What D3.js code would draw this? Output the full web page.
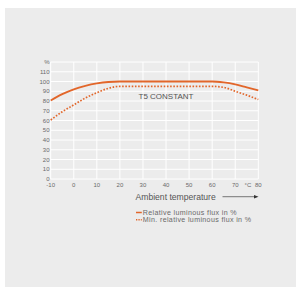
<!DOCTYPE html>
<meta charset="utf-8">
<style>
  body { margin: 0; background: #fff; }
  text { font-family: "Liberation Sans", Arial, sans-serif; fill: #6a6a6a; }
  .grid line { stroke: #fff; stroke-width: 1px; }
  .line { fill: none; stroke: #e2662a; }
</style>
<body>
<script src="https://d3js.org/d3.v7.min.js"></script>
<script>

// temperatures (°C) and the two flux curves (%)
var temps   = [-10, -5, 0, 5, 10, 15, 20, 25, 30, 35, 40, 45, 50, 55, 60, 65, 70, 75, 80];
var fluxRel = [80.5, 87, 92, 95.5, 98, 99.5, 100, 100, 100, 100, 100, 100, 100, 100, 100, 99, 97, 94, 91];
var fluxMin = [60.5, 69, 76, 83, 88.5, 93, 95, 95, 95, 95, 95, 95, 95, 95, 95, 94, 90, 86, 81.5];

var xTicks = [-10, 0, 10, 20, 30, 40, 50, 60, 70, 80];
var yTicks = [0, 10, 20, 30, 40, 50, 60, 70, 80, 90, 100, 110];
var legendLabels = ["Relative luminous flux in %", "Min. relative luminous flux in %"];

var W = 296, H = 298;
var svg = d3.select("body").append("svg")
    .attr("width", W)
    .attr("height", H);

// grey panel
svg.append("rect")
    .attr("x", 5).attr("y", 8)
    .attr("width", 291).attr("height", 279)
    .attr("fill", "#ececec");

var x = d3.scaleLinear().domain([-10, 80]).range([50.7, 258.3]);
var y = d3.scaleLinear().domain([0, 120]).range([179, 62]);

// grid
var grid = svg.append("g").attr("class", "grid");
grid.selectAll(".h")
    .data(d3.range(0, 121, 10))
  .enter().append("line")
    .attr("x1", x(-10)).attr("x2", x(80))
    .attr("y1", function(d) { return y(d); })
    .attr("y2", function(d) { return y(d); });
grid.selectAll(".v")
    .data(xTicks)
  .enter().append("line")
    .attr("x1", function(d) { return x(d); })
    .attr("x2", function(d) { return x(d); })
    .attr("y1", y(0)).attr("y2", y(120));

// y labels
svg.selectAll(".ylab")
    .data(yTicks)
  .enter().append("text")
    .attr("x", 49.5)
    .attr("y", function(d) { return y(d); })
    .attr("dy", "0.35em")
    .attr("text-anchor", "end")
    .style("font-size", "6px")
    .text(function(d) { return d; });
svg.append("text")
    .attr("x", 49.5).attr("y", y(120)).attr("dy", "0.35em")
    .attr("text-anchor", "end")
    .style("font-size", "6px")
    .text("%");

// x labels
svg.selectAll(".xlab")
    .data(xTicks)
  .enter().append("text")
    .attr("x", function(d) { return x(d); })
    .attr("y", 184.5)
    .attr("dy", "0.35em")
    .attr("text-anchor", "middle")
    .style("font-size", "6px")
    .text(function(d) { return d; });
svg.append("text")
    .attr("x", x(75.5)).attr("y", 184.5).attr("dy", "0.35em")
    .attr("text-anchor", "middle")
    .style("font-size", "6px")
    .text("°C");

// axis title with arrow
svg.append("text")
    .attr("x", 135.5).attr("y", 196.7).attr("dy", "0.35em")
    .style("font-size", "8.6px")
    .style("fill", "#555")
    .text("Ambient temperature");
svg.append("line")
    .attr("x1", 222.5).attr("x2", 255)
    .attr("y1", 196.7).attr("y2", 196.7)
    .attr("stroke", "#444").attr("stroke-width", 0.7);
svg.append("path")
    .attr("d", "M254,194.9 L258.5,196.7 L254,198.5 Z")
    .attr("fill", "#333");

// curves
var line = d3.line()
    .x(function(d) { return x(d[0]); })
    .y(function(d) { return y(d[1]); })
    .curve(d3.curveMonotoneX);

svg.append("path")
    .datum(d3.zip(temps, fluxMin))
    .attr("class", "line")
    .attr("d", line)
    .attr("stroke-width", 1.7)
    .attr("stroke-dasharray", "1.6,1.6");

svg.append("path")
    .datum(d3.zip(temps, fluxRel))
    .attr("class", "line")
    .attr("d", line)
    .attr("stroke-width", 1.8);

svg.append("text")
    .attr("x", 138.5).attr("y", 96).attr("dy", "0.35em")
    .style("font-size", "8px")
    .style("fill", "#555")
    .text("T5 CONSTANT");

// legend
var leg = svg.selectAll(".leg")
    .data(legendLabels)
  .enter().append("g")
    .attr("transform", function(d, i) { return "translate(136," + (212.5 + i * 7.3) + ")"; });
leg.append("line")
    .attr("class", "line")
    .attr("x1", 0).attr("x2", 5.8)
    .attr("stroke-width", 1.5)
    .attr("stroke-dasharray", function(d, i) { return i ? "1.3,1.1" : null; });
leg.append("text")
    .attr("x", 6.8).attr("dy", "0.35em")
    .style("font-size", "7.1px")
    .style("letter-spacing", "0.35px")
    .text(function(d) { return d; });

</script>
</body>
